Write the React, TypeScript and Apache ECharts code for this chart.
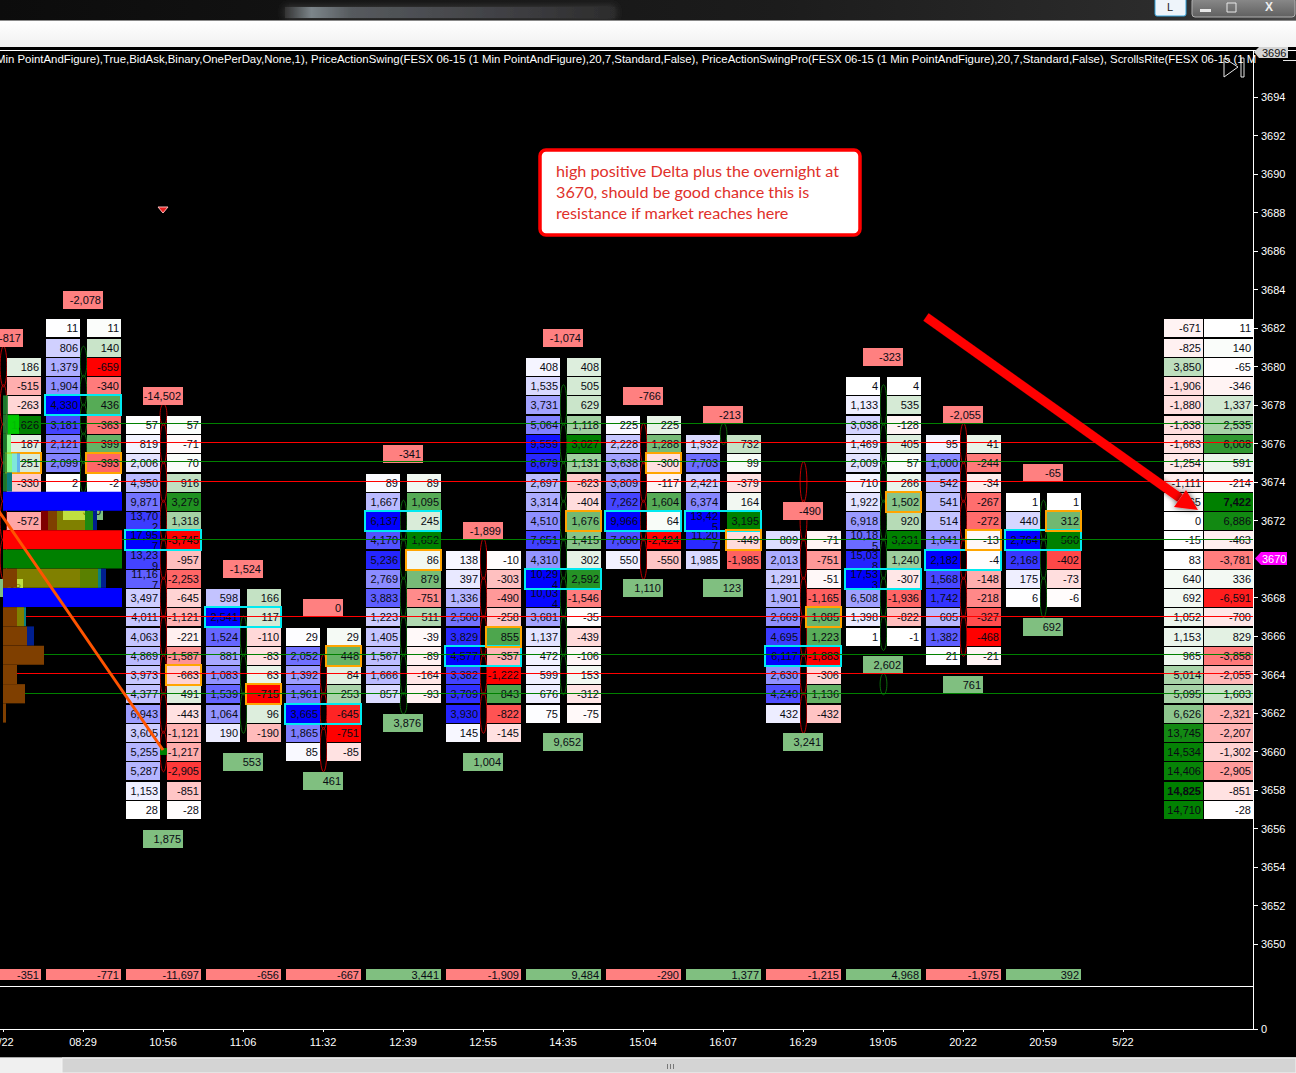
import React, { useEffect, useRef } from "react";
import * as echarts from "echarts";

const TIME_LABELS = ["5/22", "08:29", "10:56", "11:06", "11:32", "12:39", "12:55", "14:35", "15:04", "16:07", "16:29", "19:05", "20:22", "20:59", "5/22"];
const PRICE_TICKS = [3650, 3652, 3654, 3656, 3658, 3660, 3662, 3664, 3666, 3668, 3672, 3674, 3676, 3678, 3680, 3682, 3684, 3686, 3688, 3690, 3692, 3694];

const BAR_TOPS = [3680, 3682, 3677, 3668, 3666, 3674, 3670, 3680, 3677, 3676, 3671, 3679, 3676, 3673];
const BID_ROWS: (number | null)[][] = [
  [],
  [11, 806, 1379, 1904, 4330, 3181, 2121, 2099, 2],
  [57, 819, 2006, 4950, 9871, 13702, 17957, 13239, 11167, 3497, 4011, 4063, 4869, 3973, 4377, 6943, 3605, 5255, 5287, 1153, 28],
  [598, 2541, 1524, 881, 1083, 1539, 1064, 190],
  [29, 2052, 1392, 1961, 3665, 1865, 85],
  [89, 1667, 6137, 4170, 5236, 2769, 3883, 1223, 1405, 1567, 1666, 857],
  [138, 397, 1336, 2500, 3829, 4577, 3382, 3709, 3930, 145],
  [408, 1535, 3731, 5064, 9559, 8679, 2697, 3314, 4510, 7651, 4310, 10294, 10034, 3681, 1137, 472, 599, 676, 75],
  [225, 2228, 3638, 3809, 7262, 9966, 7000, 550],
  [1932, 7703, 2421, 6374, 13425, 11207, 1985],
  [809, 2013, 1291, 1901, 2669, 4695, 6117, 2630, 4240, 432],
  [4, 1133, 3038, 1469, 2009, 710, 1922, 6918, 10185, 15038, 17533, 6508, 1398, 1],
  [95, 1000, 542, 541, 514, 1041, 2182, 1568, 1742, 605, 1382, 21],
  [1, 440, 2764, 2168, 175, 6],
];
const DELTA_ROWS: (number | null)[][] = [
  [186, -515, -263, 1626, 187, 251, -330, null, -572, null, null],
  [11, 140, -659, -340, 436, -363, 399, -393, -2],
  [57, -71, 70, 916, 3279, 1318, -3745, -957, -2253, -645, -1121, -221, -1587, -663, 491, -443, -1121, -1217, -2905, -851, -28],
  [166, 117, -110, -83, 63, -715, 96, -190],
  [29, 448, 84, 253, -645, -751, -85],
  [89, 1095, 245, 1652, 86, 879, -751, 511, -39, -89, -164, -93],
  [-10, -303, -490, -258, 855, -357, -1222, 843, -822, -145],
  [408, 505, 629, 1118, 3027, 1131, -623, -404, 1676, 1415, 302, 2592, -1546, -35, -439, -106, 153, -312, -75],
  [225, 1288, -300, -117, 1604, 64, -2424, -550],
  [732, 99, -379, 164, 3195, -449, -1985],
  [-71, -751, -51, -1165, 1085, 1223, -1883, -306, 1136, -432],
  [4, 535, -128, 405, 57, 266, 1502, 920, 3231, 1240, -307, -1936, -822, -1],
  [41, -244, -34, -267, -272, -13, -4, -148, -218, -327, -468, -21],
  [1, 312, 560, -402, -73, -6],
];
const TOP_DELTAS = [-817, -2078, -14502, -1524, 0, -341, -1899, -1074, -766, -213, -490, -323, -2055, -65];
const BOTTOM_DELTAS = [638, 380, 1875, 553, 461, 3876, 1004, 9652, 1110, 123, 3241, 2602, 761, 692];
const BAR_TOTALS = [-351, -771, -11697, -656, -667, 3441, -1909, 9484, -290, 1377, -1215, 4968, -1975, 392];
const MAX_BID_PRICES = [null, 3678, 3671, 3667, 3662, 3672, 3665, 3669, 3672, 3672, 3665, 3669, 3670, 3671];
const IMBALANCE_PRICES = [3675, 3675, 3664, 3663, 3665, 3670, 3666, 3672, 3675, 3671, 3667, 3673, 3671, 3672];

const SUMMARY_TOP = 3682;
const SUMMARY_BID = [-671, -825, 3850, -1906, -1880, -1838, -1663, -1254, -1111, -65, 0, -15, 83, 640, 692, 1052, 1153, 965, 5014, 5095, 6626, 13745, 14534, 14406, 14825, 14710];
const SUMMARY_ASK = [11, 140, -65, -346, 1337, 2535, 6008, 591, -214, 7422, 6886, -463, -3781, 336, -6591, -700, 829, -3858, -2055, 1603, -2321, -2207, -1302, -2905, -851, -28];

const SUPPORT_LEVELS = [3677, 3675, 3671, 3665, 3663];
const RESISTANCE_LEVELS = [3676, 3674, 3667, 3664];

const SWINGS: { bar: number; up: boolean; nodes: number[] }[] = [
  { bar: 0, up: false, nodes: [3681, 3679, 3677, 3675, 3673, 3671, 3669] },
  { bar: 1, up: true, nodes: [3681, 3679.5, 3678, 3676.5, 3675, 3673.5] },
  { bar: 2, up: false, nodes: [3678, 3677, 3675, 3673, 3671, 3669, 3667, 3665, 3663, 3661, 3659] },
  { bar: 3, up: true, nodes: [3667, 3665, 3663, 3661] },
  { bar: 4, up: false, nodes: [3665, 3663, 3661.2, 3659] },
  { bar: 5, up: true, nodes: [3673, 3671, 3669, 3667, 3665, 3663, 3662] },
  { bar: 6, up: false, nodes: [3671, 3669, 3667, 3665, 3663, 3661] },
  { bar: 7, up: true, nodes: [3679, 3677, 3675, 3673, 3671, 3669, 3667, 3665, 3663] },
  { bar: 8, up: false, nodes: [3677, 3675, 3673, 3671, 3669] },
  { bar: 9, up: true, nodes: [3677, 3676] },
  { bar: 10, up: false, nodes: [3675, 3673, 3671, 3669, 3667, 3665, 3663, 3661] },
  { bar: 11, up: true, nodes: [3679, 3677, 3675, 3673, 3671, 3669, 3667, 3665.3] },
  { bar: 11, up: true, nodes: [3664, 3663] },
  { bar: 12, up: false, nodes: [3677, 3675, 3673, 3671, 3669, 3667, 3665] },
  { bar: 13, up: true, nodes: [3673, 3671, 3669, 3667] },
];

const PROFILE_ROWS: { price: number; parts: [string, number][] }[] = [
  { price: 3678, parts: [["deepGreen", 5]] },
  { price: 3677, parts: [["deepGreen", 5], ["vivid", 11]] },
  { price: 3676, parts: [["deepGreen", 4], ["pale", 4]] },
  { price: 3675, parts: [["deepGreen", 4], ["pale", 5], ["cyan", 5], ["sky", 3]] },
  { price: 3674, parts: [["deepGreen", 4], ["teal", 5]] },
  { price: 3673, parts: [["blue", 119]] },
  { price: 3672, parts: [["none", 38], ["maroon", 7], ["brown", 9], ["yellow", 28], ["green", 8], ["navy", 4]] },
  { price: 3671, parts: [["red", 119]] },
  { price: 3670, parts: [["solidGreen", 119]] },
  { price: 3669, parts: [["brown", 14], ["yellow", 63], ["mossy", 18], ["teal", 3], ["navy", 5]] },
  { price: 3668, parts: [["blue", 119]] },
  { price: 3667, parts: [["brown", 14], ["yellow", 7], ["teal", 2]] },
  { price: 3666, parts: [["brown", 24], ["navy", 7]] },
  { price: 3665, parts: [["brown", 41]] },
  { price: 3664, parts: [["brown", 14]] },
  { price: 3663, parts: [["brown", 22]] },
  { price: 3662, parts: [["brown", 3]] },
];
const HEADER_TEXT = "Min PointAndFigure),True,BidAsk,Binary,OnePerDay,None,1), PriceActionSwing(FESX 06-15 (1 Min PointAndFigure),20,7,Standard,False), PriceActionSwingPro(FESX 06-15 (1 Min PointAndFigure),20,7,Standard,False), ScrollsRite(FESX 06-15 (1 M";
const NOTE_LINES = ["high positive Delta plus the overnight at", "3670, should be good chance this is", "resistance if market reaches here"];

const PROFILE_COLORS: Record<string, string> = {
  none: "rgba(0,0,0,0)", deepGreen: "rgba(30,140,50,0.85)", vivid: "rgba(0,215,0,0.85)", pale: "rgba(100,255,100,0.7)",
  cyan: "rgba(90,230,220,0.7)", sky: "rgba(60,160,240,0.75)", teal: "#0a7f80", blue: "#0000ff", maroon: "#7f0000",
  brown: "#7f3f00", yellow: "rgba(255,255,0,0.5)", mossy: "#5a8000", green: "#1d8a10", navy: "#001f8f", red: "#ff0000", solidGreen: "#008000",
};

const FONT = "11px 'Liberation Sans', Arial, sans-serif";
const FONT_BOLD = "bold 11px 'Liberation Sans', Arial, sans-serif";
const PX_TOP = 50, PX_MID = 986, PX_BOTTOM = 1029, PX_RIGHT = 1253;
const ROW = 19.25;
const X_STEP = 80, X0 = 3;
const PRICE_MAX = 3694 + (97 - PX_TOP) / ROW;
const PRICE_MIN = 3694 - (PX_MID - 97) / ROW;
const X_MIN = -X0 / X_STEP, X_MAX = (PX_RIGHT - X0) / X_STEP;
const TOTAL_ROW_PRICE = 3648.4;
const SUMMARY_X = 15;

const fmt = (v: number) => v.toLocaleString("en-US");
const bidColor = (v: number, m: number) => { const c = Math.round(255 - 255 * Math.min(1, v / m)); return `rgb(${c},${c},255)`; };
const deltaColor = (v: number, m: number) => {
  const t = Math.min(1, Math.abs(v) / (m || 1));
  const a = Math.round(255 - 255 * t);
  return v >= 0 ? `rgb(${a},${Math.round(255 - 127 * t)},${a})` : `rgb(255,${a},${a})`;
};
const nums = (a: (number | null)[]) => a.filter((v) => v !== null) as number[];
const rowTop = (y: number) => Math.round(y - 8.5);

const txt = (text: string, x: number, y: number, font = FONT, fill = "#0a0a14") => ({
  type: "text", x, y, silent: true,
  style: { text, fill, font, align: "right", verticalAlign: "middle" },
});

function cellItems(x0: number, w: number, y: number, fill: string, value: number | null, wrap: boolean, font = FONT) {
  const top = rowTop(y);
  const mid = top + 9;
  const out: any[] = [{ type: "rect", shape: { x: x0, y: top, width: w, height: 18 }, style: { fill } }];
  if (value === null) return out;
  const s = fmt(value);
  if (wrap && s.length > 5) {
    out.push(txt(s.slice(0, 5), x0 + w - 2, mid - 5.5), txt(s.slice(5), x0 + w - 2, mid + 5.5));
  } else out.push(txt(s, x0 + w - 2, mid, font));
  return out;
}

const cells: any[] = [];
BAR_TOPS.forEach((top, b) => {
  const bidMax = Math.max(...nums(BID_ROWS[b]));
  const deltaMax = Math.max(...nums(DELTA_ROWS[b]).map(Math.abs));
  DELTA_ROWS[b].forEach((d, r) => cells.push({ bar: b, price: top - r, bid: BID_ROWS[b][r] ?? null, delta: d, bidMax, deltaMax }));
});
const summaryBidMax = Math.max(...SUMMARY_BID.map(Math.abs));
const summaryAskMax = Math.max(...SUMMARY_ASK.map(Math.abs));
const summary = SUMMARY_BID.map((bid, i) => ({ price: SUMMARY_TOP - i, bid, ask: SUMMARY_ASK[i] }));

const labels: any[] = [];
BAR_TOPS.forEach((top, b) => {
  labels.push({ bar: b, price: top + 1.5, value: TOP_DELTAS[b], up: false });
  labels.push({ bar: b, price: top - DELTA_ROWS[b].length + 1 - 1.5, value: BOTTOM_DELTAS[b], up: true });
});

const swings: any[] = [];
SWINGS.forEach((s) => s.nodes.slice(1).forEach((n, i) => swings.push({ bar: s.bar, a: s.nodes[i], b: n, up: s.up })));

const levels = [
  ...SUPPORT_LEVELS.map((p) => ({ price: p, color: "#008000" })),
  ...RESISTANCE_LEVELS.map((p) => ({ price: p, color: "#ff0000" })),
];
const profileTotal = (p: number) => {
  const r = PROFILE_ROWS.find((q) => q.price === p);
  return r ? r.parts.reduce((s, q) => s + q[1], 0) : 0;
};

function custom(name: string, list: any[], z: number, render: (d: any, api: any, params: any) => any) {
  return {
    type: "custom", name, xAxisIndex: 0, yAxisIndex: 0, z, silent: true,
    encode: { x: 0, y: 1 },
    data: list.map((d) => [d.bar ?? 0, d.price ?? d.a ?? 3670]),
    renderItem: (params: any, api: any) => render(list[params.dataIndex], api, params),
  };
}

function buildOption() {
  const series = [
    custom("swings", swings, 2, (d, api) => {
      const [x, ya] = api.coord([d.bar, d.a]);
      const [, yb] = api.coord([d.bar, d.b]);
      return {
        type: "ellipse", shape: { cx: x + 0.5, cy: (ya + yb) / 2, rx: 3.4, ry: Math.abs(yb - ya) / 2 + 1 },
        style: { fill: "none", stroke: d.up ? "#0b6a0b" : "#c00000", lineWidth: 1 },
      };
    }),
    custom("cells", cells, 3, (d, api) => {
      const [x, y] = api.coord([d.bar, d.price]);
      const children: any[] = [];
      if (d.bid !== null) children.push(...cellItems(x - 37, 34, y, bidColor(d.bid, d.bidMax), d.bid, true));
      if (d.delta !== null) children.push(...cellItems(x + 4, 34, y, deltaColor(d.delta, d.deltaMax), d.delta, false));
      return { type: "group", children };
    }),
    custom("summary", summary, 3, (d, api) => {
      const [x, y] = api.coord([SUMMARY_X, d.price]);
      const b1 = Math.abs(d.bid) === summaryBidMax, b2 = Math.abs(d.ask) === summaryAskMax;
      return {
        type: "group",
        children: [
          ...cellItems(x - 39, 39, y, deltaColor(d.bid, summaryBidMax), d.bid, false, b1 ? FONT_BOLD : FONT),
          ...cellItems(x + 1, 49, y, deltaColor(d.ask, summaryAskMax), d.ask, false, b2 ? FONT_BOLD : FONT),
        ],
      };
    }),
    custom("labels", labels, 4, (d, api) => {
      const [x, y] = api.coord([d.bar, d.price]);
      const top = rowTop(y);
      return {
        type: "group",
        children: [
          { type: "rect", shape: { x: x - 20, y: top, width: 40, height: 18 }, style: { fill: d.up ? "#80bf80" : "#ff8080" } },
          txt(fmt(d.value), x + 18, top + 9),
        ],
      };
    }),
    custom("totals", BAR_TOTALS.map((v, i) => ({ bar: i, price: TOTAL_ROW_PRICE, value: v })), 4, (d, api) => {
      const [x, y] = api.coord([d.bar, d.price]);
      return {
        type: "group",
        children: [
          { type: "rect", shape: { x: x - 37, y: Math.round(y - 5.5), width: 75, height: 11 }, style: { fill: d.value >= 0 ? "#80bf80" : "#ff8080" } },
          txt(fmt(d.value), x + 36, Math.round(y - 5.5) + 5.5),
        ],
      };
    }),
    custom("maxBid", MAX_BID_PRICES.map((p, i) => ({ bar: i, price: p })).filter((d) => d.price !== null), 5, (d, api) => {
      const [x, y] = api.coord([d.bar, d.price]);
      return { type: "rect", shape: { x: x - 38, y: rowTop(y) - 1, width: 76, height: 20 }, style: { fill: "none", stroke: "#00eaf0", lineWidth: 2 } };
    }),
    custom("imbalance", IMBALANCE_PRICES.map((p, i) => ({ bar: i, price: p })), 6, (d, api) => {
      const [x, y] = api.coord([d.bar, d.price]);
      return { type: "rect", shape: { x: x + 3, y: rowTop(y) - 1, width: 35, height: 20 }, style: { fill: "none", stroke: "#ffa500", lineWidth: 2 } };
    }),
    custom("levels", levels, 7, (d, api, params) => {
      const [x, y] = api.coord([0, d.price]);
      const right = params.coordSys.x + params.coordSys.width;
      const py = Math.floor(y - 0.75) + 0.5;
      return { type: "line", shape: { x1: x + profileTotal(d.price), y1: py, x2: right, y2: py }, style: { stroke: d.color, lineWidth: 1 } };
    }),
    custom("profile", PROFILE_ROWS, 8, (d, api) => {
      const [x, y] = api.coord([0, d.price]);
      let left = x;
      const children = d.parts.map(([k, w]: [string, number]) => {
        const el = { type: "rect", shape: { x: left, y: y - 9.6, width: w, height: 19.2 }, style: { fill: PROFILE_COLORS[k] } };
        left += w;
        return el;
      });
      return { type: "group", children };
    }),
    {
      type: "custom", name: "swing start", xAxisIndex: 0, yAxisIndex: 0, z: 9, silent: true, encode: { x: 0, y: 1 },
      data: [[2, 3660]],
      renderItem: (_: any, api: any) => {
        const [x, y] = api.coord([2, 3660]);
        return { type: "rect", shape: { x: x - 3, y: y - 3.5, width: 7, height: 7 }, style: { fill: "#008000" } };
      },
    },
  ];

  const bar = new echarts.graphic.LinearGradient(0, 0, 1, 0, [
    { offset: 0, color: "#0c0c0c" }, { offset: 0.6, color: "#1c1c1c" }, { offset: 0.9, color: "#2c2c2c" }, { offset: 1, color: "#4a4a4a" },
  ]);
  const blur = new echarts.graphic.LinearGradient(0, 0, 1, 0, [
    { offset: 0, color: "#333333" }, { offset: 0.08, color: "#7c858a" }, { offset: 0.2, color: "#565a5e" }, { offset: 0.7, color: "#3e3e42" }, { offset: 1, color: "#2c2c2c" },
  ]);
  const btn = new echarts.graphic.LinearGradient(0, 0, 0, 1, [{ offset: 0, color: "#8c8c8c" }, { offset: 1, color: "#606060" }]);
  const band = new echarts.graphic.LinearGradient(0, 0, 0, 1, [{ offset: 0, color: "#ffffff" }, { offset: 1, color: "#f1f1f1" }]);
  const rect = (x: number, y: number, width: number, height: number, fill: any, extra: any = {}) => ({
    type: "rect", z: 50, silent: true, shape: { x, y, width, height, ...(extra.r ? { r: extra.r } : {}) },
    style: { fill, ...(extra.stroke ? { stroke: extra.stroke, lineWidth: extra.lw ?? 1 } : {}), ...(extra.blur ? { shadowBlur: extra.blur, shadowColor: "#444444" } : {}) },
  });
  const text = (s: string, x: number, y: number, font: string, fill: string, extra: any = {}) => ({
    type: "text", z: 60, silent: true, x, y, ...extra, style: { text: s, font, fill, verticalAlign: "middle" },
  });

  const graphic = [
    rect(0, 0, 1296, 20, bar),
    rect(285, 7, 330, 11, blur, { blur: 8 }),
    rect(0, 20, 1296, 1, "#8a8a8a"),
    rect(0, 21, 1296, 26, band),
    rect(0, 47, 1296, 3, "#000000"),
    rect(0, 50, 1296, 1, "#ffffff"),
    rect(1155, -2, 31, 18, "#eef4fa", { stroke: "#35a4dc", lw: 1, r: 2 }),
    text("L", 1167, 7, "11px 'Liberation Sans'", "#222222"),
    rect(1192, -2, 103, 19, btn, { stroke: "#b0b0b0", r: 3 }),
    rect(1200, 9, 11, 3, "#e8e8e8"),
    rect(1227, 3, 9, 9, "none", { stroke: "#e8e8e8" }),
    text("X", 1265, 7, "bold 12px 'Liberation Sans'", "#eeeeee"),
    text(HEADER_TEXT, -4, 59, "11.4px 'Liberation Sans', Arial, sans-serif", "#ffffff"),
    { type: "polygon", z: 60, silent: true, shape: { points: [[1224, 58], [1238, 67], [1224, 77]] }, style: { fill: "none", stroke: "#e8e8e8", lineWidth: 1 } },
    rect(1241, 58, 3, 19, "none", { stroke: "#e8e8e8" }),
    { type: "polygon", z: 61, silent: true, shape: { points: [[1254, 52], [1259, 47], [1288, 47], [1288, 58], [1259, 58]] }, style: { fill: "#d4d4d4" } },
    { ...text("3696", 1262, 52.5, FONT, "#111111"), z: 62 },
    rect(1283, 60, 13, 1, "#e8e8e8"),
    { type: "polygon", z: 60, silent: true, shape: { points: [[1255, 558.5], [1261, 552], [1287, 552], [1287, 565], [1261, 565]] }, style: { fill: "#ff00ff" } },
    { ...text("3670", 1262, 558.5, FONT, "#ffffff"), z: 62 },
    { type: "polygon", z: 40, silent: true, shape: { points: [[158, 207], [168, 207], [163, 213]] }, style: { fill: "#e82020", stroke: "#ffb8b8", lineWidth: 1 } },
    { type: "line", z: 45, silent: true, shape: { x1: -2, y1: 510, x2: 163, y2: 750 }, style: { stroke: "#ff5400", lineWidth: 3 } },
    { type: "line", z: 45, silent: true, shape: { x1: 926, y1: 317, x2: 1180, y2: 498 }, style: { stroke: "#ff0000", lineWidth: 9, shadowBlur: 5, shadowColor: "rgba(0,0,0,0.6)" } },
    { type: "polygon", z: 45, silent: true, shape: { points: [[1198, 510], [1186, 490], [1174, 507]] }, style: { fill: "#ff0000", shadowBlur: 6, shadowColor: "rgba(0,0,0,0.7)" } },
    rect(540, 150, 320, 85, "#ffffff", { stroke: "#ff0000", lw: 3.5, r: 6 }),
    ...NOTE_LINES.map((s, i) => text(s, 556, 170.5 + i * 21, "16.2px Lato, 'Open Sans', sans-serif", "#e0302a")),
    rect(0, 1057, 1296, 16, "#f0f0f0"),
    rect(0, 1057, 1296, 1, "#a8a8a8"),
    rect(62, 1058, 1234, 15, "#d4d4d4", { stroke: "#f4f4f4" }),
    rect(667, 1064, 1, 5, "#777777"), rect(670, 1064, 1, 5, "#777777"), rect(673, 1064, 1, 5, "#777777"),
  ];

  const axisLine = { show: true, onZero: false, lineStyle: { color: "#ffffff", width: 1 } };
  return {
    animation: false,
    backgroundColor: "#000000",
    textStyle: { fontFamily: "'Liberation Sans', Arial, sans-serif" },
    tooltip: { show: false },
    grid: [
      { left: 0, width: PX_RIGHT, top: PX_TOP, height: PX_MID - PX_TOP, outerBoundsMode: "none" },
      { left: 0, width: PX_RIGHT, top: PX_MID, height: PX_BOTTOM - PX_MID, outerBoundsMode: "none" },
    ],
    xAxis: [
      { type: "value", gridIndex: 0, min: X_MIN, max: X_MAX, axisLine, axisTick: { show: false }, axisLabel: { show: false }, splitLine: { show: false } },
      {
        type: "value", gridIndex: 1, min: X_MIN, max: X_MAX, axisLine,
        axisTick: { show: true, length: 3, lineStyle: { color: "#ffffff" }, customValues: TIME_LABELS.map((_, i) => i) },
        axisLabel: { color: "#ffffff", fontSize: 11, margin: 7, customValues: TIME_LABELS.map((_, i) => i), formatter: (v: number) => TIME_LABELS[Math.round(v)] ?? "" },
        splitLine: { show: false },
      },
    ],
    yAxis: [
      {
        type: "value", gridIndex: 0, position: "right", min: PRICE_MIN, max: PRICE_MAX, axisLine,
        axisTick: { show: true, length: 5, lineStyle: { color: "#ffffff" }, customValues: PRICE_TICKS },
        axisLabel: { color: "#ffffff", fontSize: 11, margin: 8, customValues: PRICE_TICKS, formatter: (v: number) => String(Math.round(v)) },
        splitLine: { show: false },
      },
      {
        type: "value", gridIndex: 1, position: "right", min: 0, max: 1, axisLine,
        axisTick: { show: true, length: 5, lineStyle: { color: "#ffffff" }, customValues: [0] },
        axisLabel: { color: "#ffffff", fontSize: 11, margin: 8, customValues: [0], formatter: () => "0" },
        splitLine: { show: false },
      },
    ],
    series,
    graphic,
  };
}

export default function App() {
  const ref = useRef<HTMLDivElement>(null);
  useEffect(() => {
    document.body.style.margin = "0";
    document.body.style.background = "#000";
    const chart = echarts.init(ref.current!, undefined, { renderer: "svg" });
    chart.setOption(buildOption() as any);
    return () => chart.dispose();
  }, []);
  return <div ref={ref} style={{ position: "absolute", left: 0, top: 0, width: 1296, height: 1073 }} />;
}
